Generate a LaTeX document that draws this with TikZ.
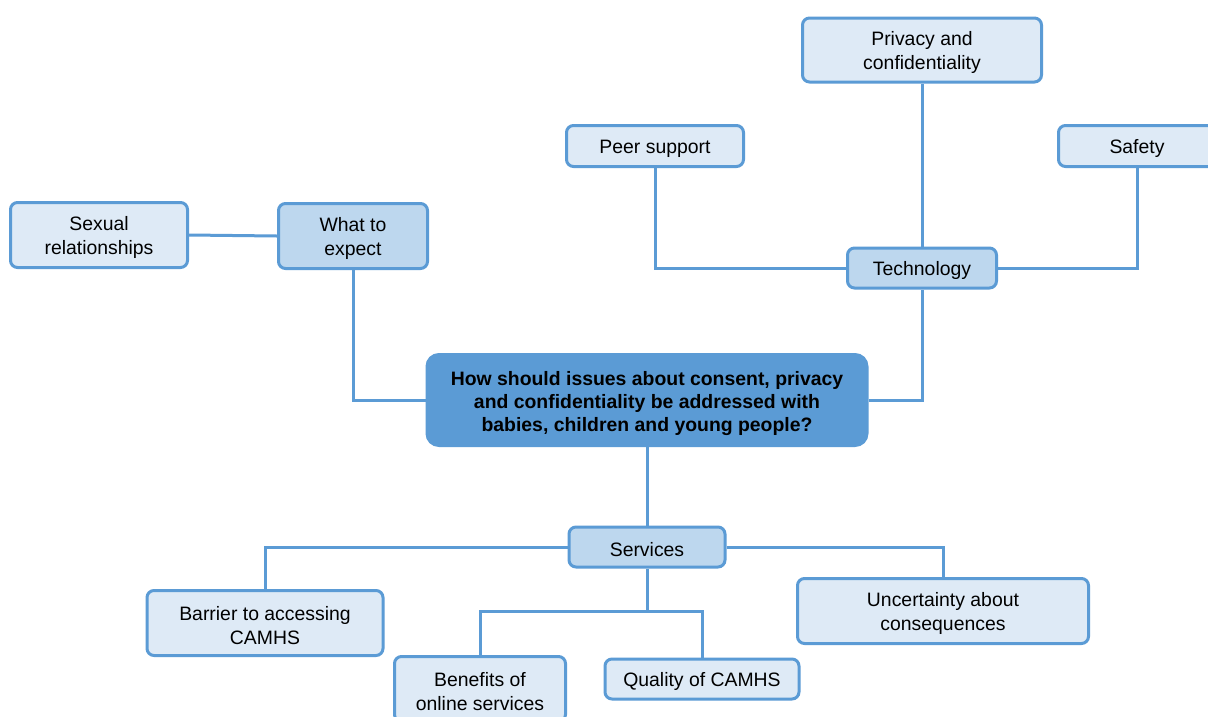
\documentclass[tikz,border=0pt]{standalone}
\usepackage{fontspec}
\setmainfont{Liberation Sans}
\definecolor{lineblue}{HTML}{5B9BD5}
\definecolor{leaffill}{HTML}{DEEAF6}
\definecolor{midfill}{HTML}{BDD7EE}
\newcommand{\topstrut}[1]{\rule{0pt}{#1}}
\begin{document}
\begin{tikzpicture}[x=1pt,y=-1pt,
  box/.style={draw=lineblue,line width=3pt,rounded corners=7pt,align=center,
    font=\fontsize{19.4}{24}\selectfont,inner sep=0pt,text=black},
  leaf/.style={box,fill=leaffill},
  mid/.style={box,fill=midfill},
  central/.style={box,fill=lineblue,draw=lineblue,rounded corners=12pt,
    font=\fontsize{19.4}{23}\selectfont\bfseries},
  conn/.style={draw=lineblue,line width=3pt}]
\useasboundingbox (0,0) rectangle (1208,716);
\fill[white] (0,0) rectangle (1208,716);
% nodes
\node[central,minimum width=440,minimum height=91] (c) at (647,400) {\topstrut{22pt}How should issues about consent, privacy\\and confidentiality be addressed with\\babies, children and young people?};
\node[mid,minimum width=149,minimum height=65] (wte) at (353,236) {\topstrut{18.5pt}What to\\expect};
\node[leaf,minimum width=177,minimum height=65] (sex) at (99,235) {\topstrut{18.5pt}Sexual\\relationships};
\node[mid,minimum width=149,minimum height=40] (tech) at (922,268) {\topstrut{19.5pt}Technology};
\node[leaf,minimum width=239,minimum height=64] (priv) at (922,50) {\topstrut{18.5pt}Privacy and\\confidentiality};
\node[leaf,minimum width=177,minimum height=41] (peer) at (655,146) {\topstrut{19.5pt}Peer support};
\node[leaf,minimum width=157,minimum height=41] (safe) at (1137,146) {\topstrut{19.5pt}Safety};
\node[mid,minimum width=156,minimum height=40] (serv) at (647,547) {\topstrut{19.5pt}Services};
\node[leaf,minimum width=236,minimum height=65] (bar) at (265,623) {\topstrut{18.5pt}Barrier to accessing\\CAMHS};
\node[leaf,minimum width=291,minimum height=65] (unc) at (943,611) {\topstrut{18.5pt}Uncertainty about\\consequences};
\node[leaf,minimum width=171,minimum height=65] (ben) at (480,689) {\topstrut{18.5pt}Benefits of\\online services};
\node[leaf,minimum width=194,minimum height=40] (qual) at (702,679) {\topstrut{19.5pt}Quality of CAMHS};
\coordinate (j) at (647,611);
% connectors
\draw[conn] (sex.east) -- (wte.west);
\draw[conn] (wte.south) |- (c.west);
\draw[conn] (c.east) -| (tech.south);
\draw[conn] (tech.north) -- (priv.south);
\draw[conn] (tech.west) -| (peer.south);
\draw[conn] (tech.east) -| (safe.south);
\draw[conn] (c.south) -- (serv.north);
\draw[conn] (serv.west) -| (bar.north);
\draw[conn] (serv.east) -| (unc.north);
\draw[conn] (serv.south) -- (j);
\draw[conn] (j) -| (ben.north);
\draw[conn] (j) -| (qual.north);
\end{tikzpicture}
\end{document}
